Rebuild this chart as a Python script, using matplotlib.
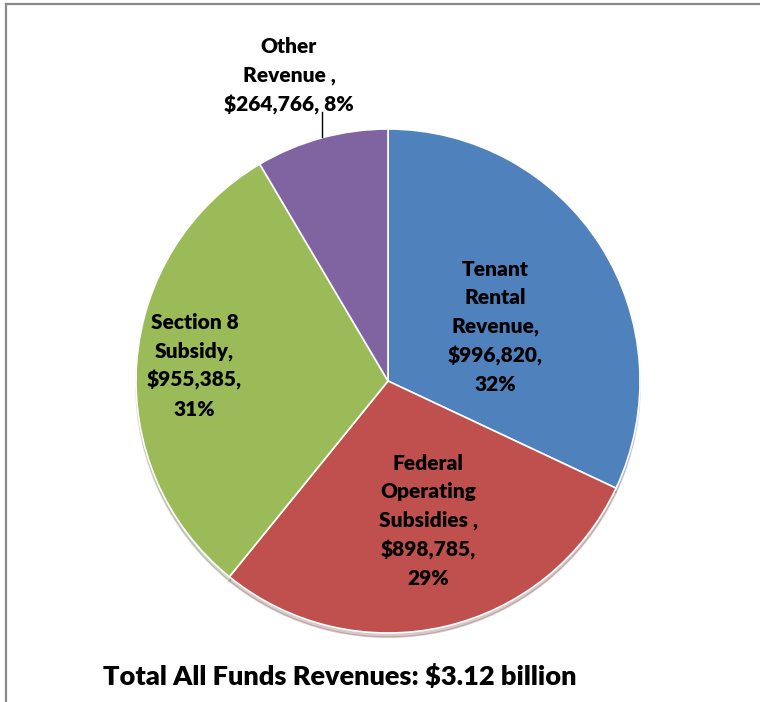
import numpy as np
import matplotlib.pyplot as plt

# revenue by source, in dollars (thousands)
sources = ['Tenant\nRental\nRevenue', 'Federal\nOperating\nSubsidies ', 'Section 8\nSubsidy', 'Other\nRevenue ']
amounts = [996820, 898785, 955385, 264766]
colors = ['#4F81BD', '#C0504D', '#9BBB59', '#8064A2']
title = 'Total All Funds Revenues: $3.12 billion'

# label placement (radial distance, extra x/y nudge), in pie radii
label_dist = [0.46, 0.57, 0.77, 1.255]
label_nudge = [(0.037, -0.032), (0.032, 0.0), (0.0, 0.004), (-0.062, 0.0)]

plt.rcParams['font.family'] = ['Lato', 'DejaVu Sans']

W, H = 760, 702
fig = plt.figure(figsize=(W / 100, H / 100), dpi=100)

# outer chart frame (top and left edges visible)
fig.add_artist(plt.Line2D([6 / W, 6 / W], [0, 1 - 4 / H], color='#8a8a8a', lw=1.6))
fig.add_artist(plt.Line2D([6 / W, 1], [1 - 4 / H, 1 - 4 / H], color='#8a8a8a', lw=1.6))

cx, cy, r = 388, 381, 252
ax = fig.add_axes([(cx - r) / W, (H - cy - r) / H, 2 * r / W, 2 * r / H])
ax.set_aspect('equal')
ax.axis('off')

total = sum(amounts)
wedges, _ = ax.pie(amounts, colors=colors, startangle=90, counterclock=False,
                   radius=1.0, frame=False,
                   wedgeprops=dict(edgecolor='white', linewidth=1.2),
                   shadow={'ox': 0.0, 'oy': -0.012, 'shade': 0.5, 'alpha': 0.25})
ax.set_xlim(-1.0, 1.0)
ax.set_ylim(-1.0, 1.0)

for w, name, val, d, (nx, ny) in zip(wedges, sources, amounts, label_dist, label_nudge):
    mid = np.deg2rad((w.theta1 + w.theta2) / 2)
    x = d * np.cos(mid) + nx
    y = d * np.sin(mid) + ny
    pct = round(val / total * 100)
    if name.startswith('Other'):
        txt = f'{name},\n${val:,}, {pct}%'
    else:
        txt = f'{name},\n${val:,},\n{pct}%'
    ax.text(x, y, txt, ha='center', va='center', fontsize=15,
            fontweight='heavy', linespacing=1.58, clip_on=False)

# leader line for the small slice
lx = -0.262
ax.plot([lx, lx], [np.sqrt(1 - lx ** 2) + 0.003, 1.067], color='black', lw=1.0,
        clip_on=False)

fig.text(340 / W, 1 - 677 / H, title, ha='center', va='center',
         fontsize=19.5, fontweight='heavy')

fig.savefig('out.png', dpi=100)
